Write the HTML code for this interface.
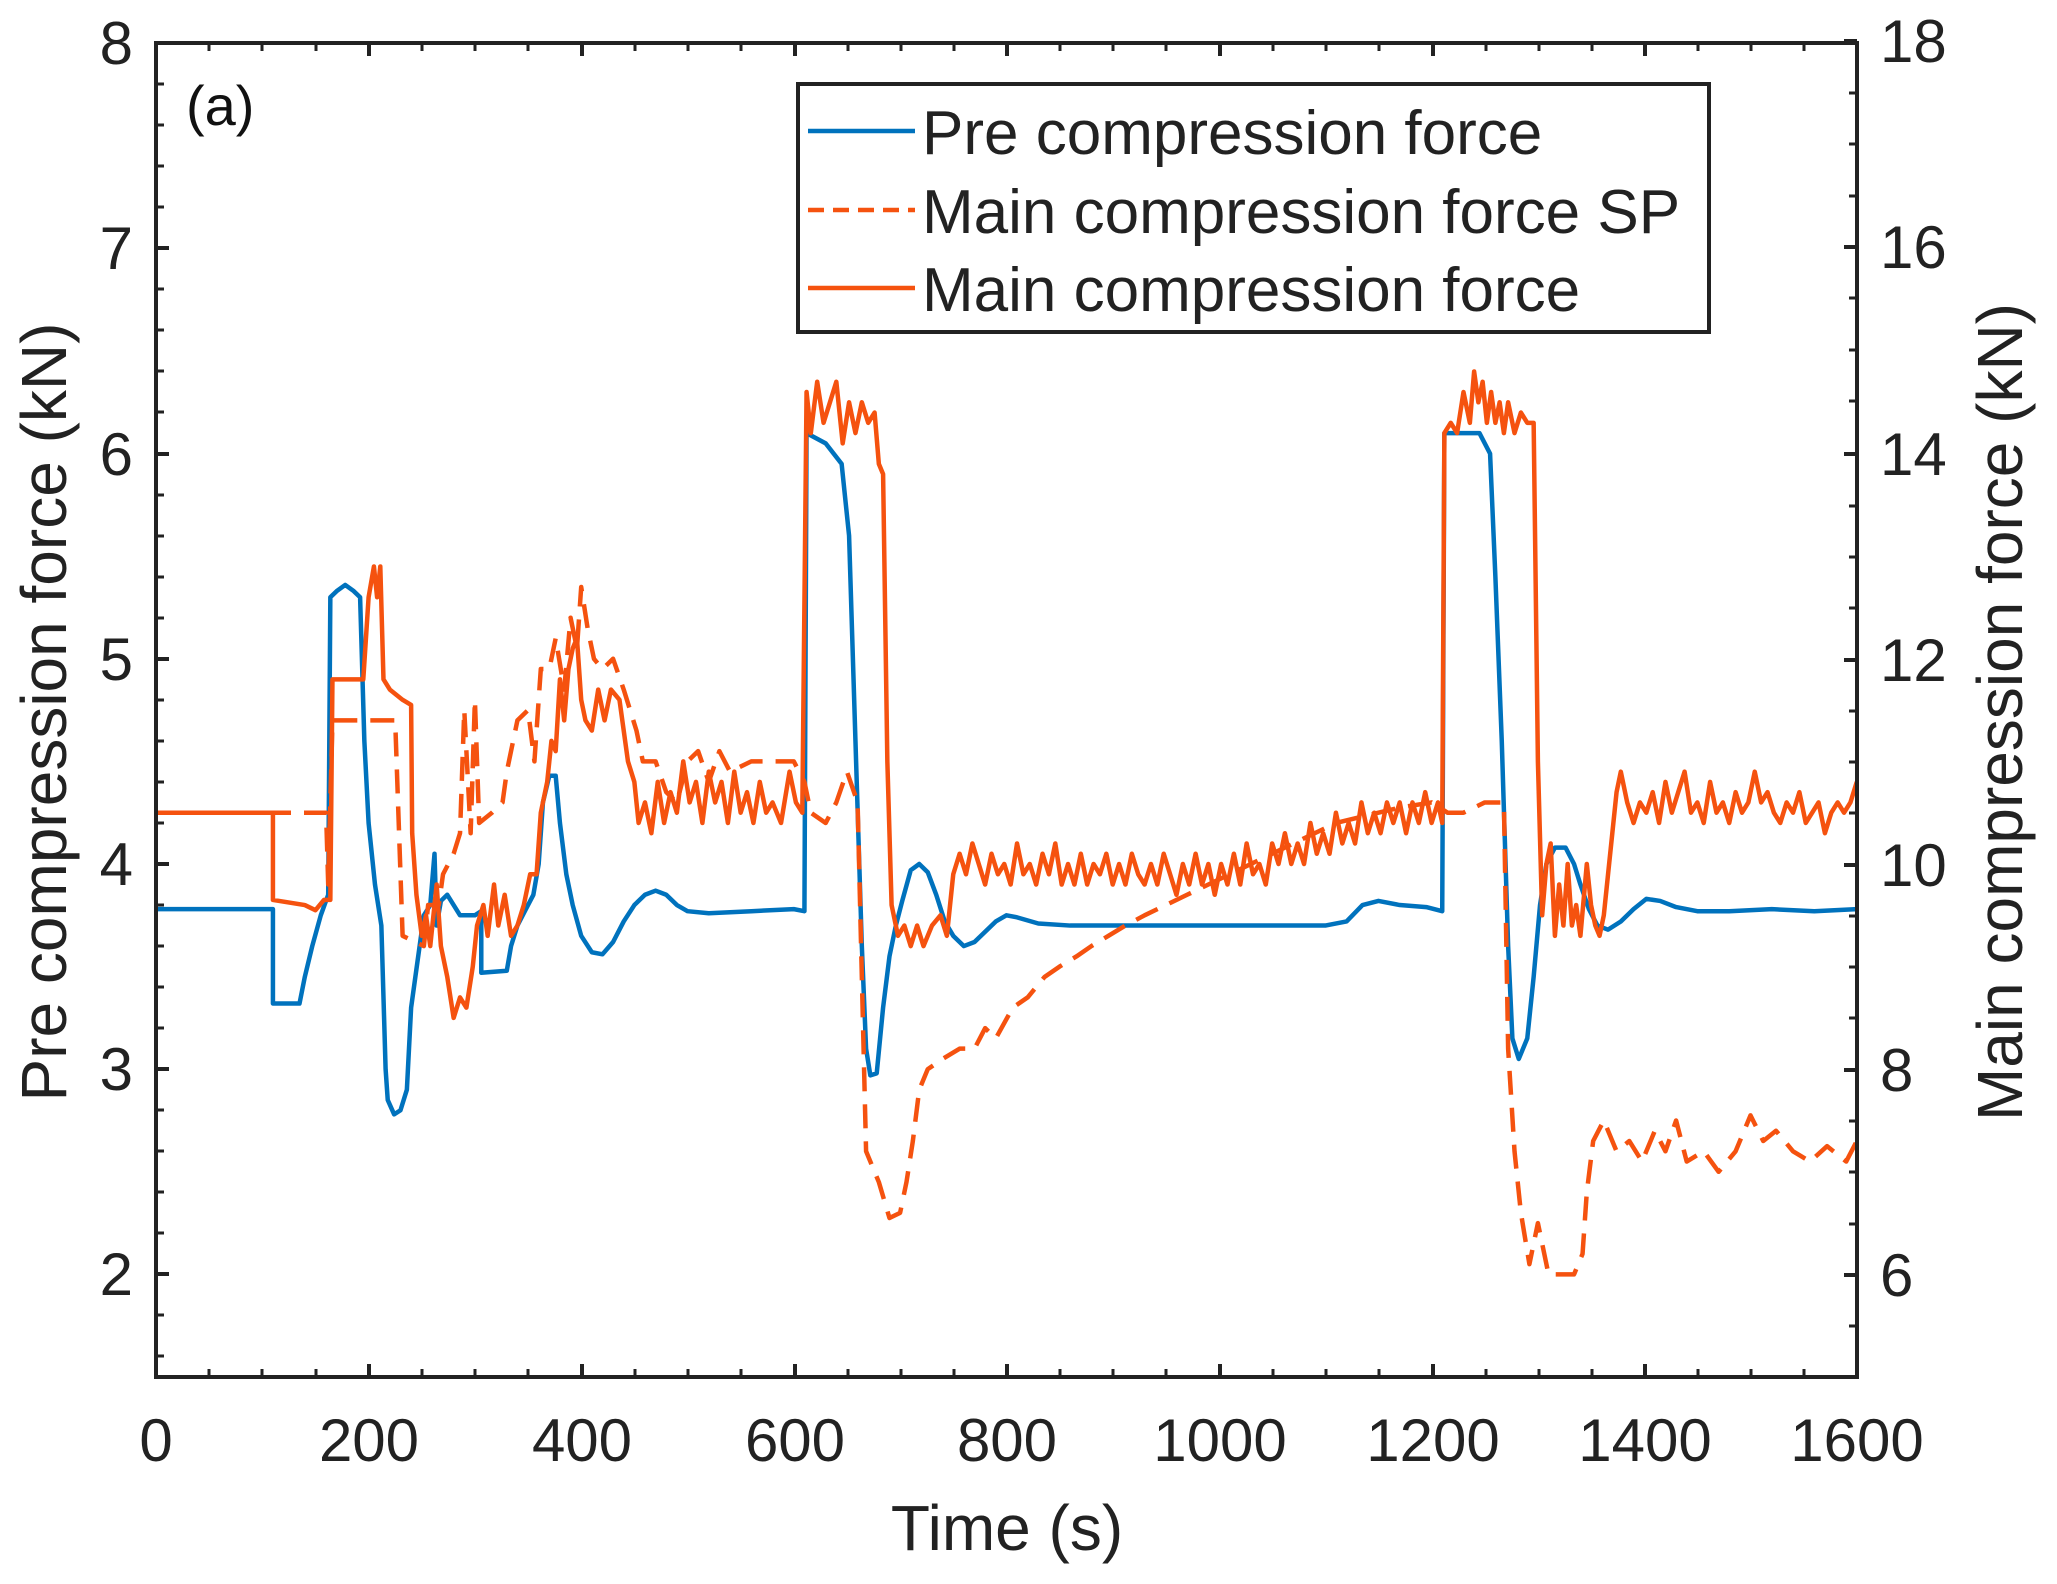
<!DOCTYPE html>
<html><head><meta charset="utf-8"><style>
html,body{margin:0;padding:0;background:#fff}
svg{display:block}
text{font-family:"Liberation Sans",sans-serif;fill:#222}
</style></head><body>
<svg width="2057" height="1584" viewBox="0 0 2057 1584" xmlns="http://www.w3.org/2000/svg">
<rect width="2057" height="1584" fill="#fff"/>
<defs><clipPath id="c"><rect x="156" y="43" width="1701" height="1334"/></clipPath></defs>
<g clip-path="url(#c)" fill="none" stroke-linejoin="round">
<g transform="translate(156,1377) scale(1.063,-205.2) translate(0,-1.5)">
<polyline vector-effect="non-scaling-stroke" stroke="#0072BD" stroke-width="4.5" points="0,3.78 110,3.78 110,3.32 135,3.32 140,3.45 147,3.6 155,3.75 162,3.85 164,5.3 170,5.33 178,5.36 186,5.33 192,5.3 196,4.6 200,4.2 206,3.9 212,3.7 216,3.0 218,2.85 224,2.78 230,2.8 236,2.9 240,3.3 244,3.45 248,3.6 252,3.75 258,3.8 262,4.05 264,3.7 268,3.82 274,3.85 280,3.8 286,3.75 292,3.75 300,3.75 306,3.77 306,3.47 330,3.48 334,3.6 340,3.7 348,3.78 355,3.85 360,4.0 364,4.3 370,4.43 376,4.43 380,4.2 386,3.95 392,3.8 400,3.65 410,3.57 420,3.56 430,3.62 440,3.72 450,3.8 460,3.85 470,3.87 480,3.85 490,3.8 500,3.77 520,3.76 560,3.77 600,3.78 610,3.77 612,6.1 630,6.05 645,5.95 652,5.6 658,4.6 664,3.6 668,3.1 672,2.97 678,2.98 684,3.3 690,3.55 696,3.7 702,3.82 710,3.97 718,4.0 726,3.96 734,3.85 742,3.72 750,3.65 760,3.6 770,3.62 780,3.67 790,3.72 800,3.75 810,3.74 830,3.71 860,3.7 900,3.7 1000,3.7 1100,3.7 1120,3.72 1135,3.8 1150,3.82 1170,3.8 1195,3.79 1210,3.77 1212,6.1 1245,6.1 1255,6.0 1260,5.4 1266,4.6 1272,3.6 1276,3.15 1282,3.05 1290,3.15 1296,3.45 1302,3.8 1308,4.0 1316,4.08 1326,4.08 1334,4.0 1340,3.9 1348,3.78 1356,3.7 1366,3.68 1378,3.72 1390,3.78 1402,3.83 1415,3.82 1430,3.79 1450,3.77 1480,3.77 1520,3.78 1560,3.77 1600,3.78"/>
</g>
<g transform="translate(156,1377) scale(1.063,-102.6) translate(0,-5)">
<polyline vector-effect="non-scaling-stroke" stroke="#F5520F" stroke-width="4.5" stroke-dasharray="24,13" points="0,10.5 160,10.5 162,9.8 166,11.4 200,11.4 205,11.4 225,11.4 232,9.3 252,9.2 256,9.6 266,9.6 270,9.9 280,10.1 286,10.3 290,11.5 296,10.3 300,11.6 304,10.4 316,10.5 326,10.6 330,10.9 340,11.4 350,11.5 356,11.0 362,11.9 370,11.9 376,12.2 384,11.7 390,12.4 396,12.1 400,12.7 406,12.3 412,12.0 420,11.9 430,12.0 440,11.7 452,11.3 458,11.0 470,11.0 480,10.7 490,10.6 500,11.0 510,11.1 520,10.8 530,11.1 540,10.9 560,11.0 580,11.0 600,11.0 610,10.8 616,10.5 630,10.4 640,10.6 650,10.9 660,10.6 668,7.2 680,6.9 690,6.55 700,6.6 706,6.9 712,7.3 718,7.8 726,8.0 740,8.1 756,8.2 770,8.2 780,8.4 790,8.3 806,8.6 820,8.7 836,8.9 850,9.0 866,9.1 880,9.2 896,9.3 912,9.4 930,9.5 950,9.6 970,9.7 990,9.8 1010,9.9 1030,10.0 1050,10.1 1070,10.2 1090,10.3 1110,10.4 1130,10.45 1150,10.5 1170,10.55 1200,10.6 1215,10.5 1230,10.5 1250,10.6 1268,10.6 1272,8.2 1278,7.2 1284,6.6 1292,6.1 1300,6.5 1310,6.0 1322,6.0 1334,6.0 1342,6.2 1346,6.8 1352,7.3 1362,7.5 1374,7.2 1386,7.3 1398,7.1 1410,7.4 1420,7.2 1430,7.5 1440,7.1 1456,7.2 1470,7.0 1486,7.2 1500,7.55 1512,7.3 1524,7.4 1540,7.2 1556,7.1 1572,7.25 1590,7.1 1600,7.3"/>
<polyline vector-effect="non-scaling-stroke" stroke="#F5520F" stroke-width="4.5" points="0,10.5 110,10.5 110,9.65 140,9.6 150,9.55 158,9.65 164,9.65 166,11.8 195,11.8 200,12.6 205,12.9 208,12.6 211,12.9 214,11.8 220,11.7 232,11.6 240,11.55 241,10.3 245,9.7 250,9.3 254,9.5 258,9.2 264,9.8 268,9.2 274,8.9 280,8.5 286,8.7 292,8.6 298,9.0 302,9.4 308,9.6 312,9.3 318,9.8 322,9.4 328,9.7 334,9.3 340,9.4 346,9.6 352,9.9 358,9.9 362,10.5 368,10.8 372,11.2 376,11.1 380,11.8 384,11.4 388,11.9 392,12.1 396,12.2 400,11.6 404,11.4 410,11.3 416,11.7 422,11.4 428,11.7 436,11.6 444,11.0 450,10.8 454,10.4 460,10.6 466,10.3 472,10.8 478,10.4 484,10.7 490,10.5 496,11.0 502,10.6 508,10.8 514,10.4 520,10.9 526,10.6 532,10.8 538,10.4 544,10.9 550,10.5 556,10.7 562,10.4 568,10.8 574,10.5 580,10.6 588,10.4 596,10.9 602,10.6 608,10.5 612,14.6 616,14.2 622,14.7 628,14.3 634,14.5 640,14.7 646,14.1 652,14.5 658,14.2 664,14.5 670,14.3 676,14.4 680,13.9 684,13.8 688,11.0 692,9.6 698,9.3 704,9.4 710,9.2 716,9.4 722,9.2 730,9.4 738,9.5 744,9.3 750,9.9 756,10.1 762,9.9 768,10.2 774,10.0 780,9.8 786,10.1 792,9.9 798,10.0 804,9.8 810,10.2 816,9.9 822,10.0 828,9.8 834,10.1 840,9.9 846,10.2 852,9.8 858,10.0 864,9.8 870,10.1 876,9.8 882,10.0 888,9.9 894,10.1 900,9.8 906,10.0 912,9.8 918,10.1 924,9.9 930,9.8 936,10.0 942,9.8 948,10.1 954,9.9 960,9.7 966,10.0 972,9.8 978,10.1 984,9.8 990,10.0 996,9.7 1002,10.0 1008,9.8 1014,10.1 1020,9.8 1026,10.2 1032,9.9 1038,10.0 1044,9.8 1050,10.2 1056,10.0 1062,10.3 1068,10.0 1074,10.2 1080,10.0 1086,10.4 1092,10.1 1098,10.3 1104,10.1 1110,10.5 1116,10.2 1122,10.4 1128,10.2 1134,10.6 1140,10.3 1146,10.5 1152,10.3 1158,10.6 1164,10.4 1170,10.6 1176,10.3 1182,10.6 1188,10.4 1194,10.7 1200,10.4 1206,10.6 1210,10.4 1212,14.2 1218,14.3 1224,14.2 1230,14.6 1236,14.3 1240,14.8 1244,14.5 1248,14.7 1252,14.3 1256,14.6 1260,14.3 1264,14.5 1268,14.2 1272,14.5 1278,14.2 1284,14.4 1290,14.3 1296,14.3 1300,11.0 1304,9.5 1308,10.0 1312,10.2 1316,9.3 1320,9.8 1324,9.4 1328,10.0 1332,9.4 1336,9.6 1340,9.3 1346,10.0 1350,9.6 1354,9.4 1358,9.3 1362,9.5 1366,9.9 1370,10.3 1374,10.7 1378,10.9 1384,10.6 1390,10.4 1396,10.6 1402,10.5 1408,10.7 1414,10.4 1420,10.8 1426,10.5 1432,10.7 1438,10.9 1444,10.5 1450,10.6 1456,10.4 1462,10.8 1468,10.5 1474,10.6 1480,10.4 1486,10.7 1492,10.5 1498,10.6 1504,10.9 1510,10.6 1516,10.7 1522,10.5 1528,10.4 1534,10.6 1540,10.5 1546,10.7 1552,10.4 1558,10.5 1564,10.6 1570,10.3 1576,10.5 1582,10.6 1588,10.5 1594,10.6 1600,10.8"/>
</g>
</g>
<rect x="156" y="43" width="1701" height="1334" fill="none" stroke="#222" stroke-width="4"/>
<g stroke="#222" stroke-width="4">
<path d="M156,1377v-13M369,1377v-13M582,1377v-13M795,1377v-13M1007,1377v-13M1220,1377v-13M1433,1377v-13M1645,1377v-13M1857,1377v-13
M156,43v13M369,43v13M582,43v13M795,43v13M1007,43v13M1220,43v13M1433,43v13M1645,43v13"/>
<path stroke-width="3" d="M209,1377v-8M262,1377v-8M316,1377v-8M422,1377v-8M475,1377v-8M528,1377v-8M635,1377v-8M688,1377v-8M741,1377v-8M848,1377v-8M901,1377v-8M954,1377v-8M1060,1377v-8M1113,1377v-8M1166,1377v-8M1273,1377v-8M1326,1377v-8M1379,1377v-8M1486,1377v-8M1539,1377v-8M1592,1377v-8M1698,1377v-8M1751,1377v-8M1804,1377v-8
M209,43v8M262,43v8M316,43v8M422,43v8M475,43v8M528,43v8M635,43v8M688,43v8M741,43v8M848,43v8M901,43v8M954,43v8M1060,43v8M1113,43v8M1166,43v8M1273,43v8M1326,43v8M1379,43v8M1486,43v8M1539,43v8M1592,43v8M1698,43v8M1751,43v8M1804,43v8"/>
<path d="M156,43h13M156,248h13M156,454h13M156,659h13M156,864h13M156,1069h13M156,1274h13"/>
<path stroke-width="3" d="M156,84h8M156,125h8M156,166h8M156,207h8M156,289h8M156,330h8M156,371h8M156,412h8M156,495h8M156,536h8M156,577h8M156,618h8M156,700h8M156,741h8M156,782h8M156,823h8M156,905h8M156,946h8M156,987h8M156,1028h8M156,1110h8M156,1151h8M156,1192h8M156,1233h8M156,1315h8M156,1356h8"/>
<path d="M1857,41h-13M1857,247h-13M1857,454h-13M1857,660h-13M1857,865h-13M1857,1070h-13M1857,1275h-13"/>
<path stroke-width="3" d="M1857,93h-8M1857,144h-8M1857,196h-8M1857,298h-8M1857,350h-8M1857,401h-8M1857,506h-8M1857,557h-8M1857,608h-8M1857,711h-8M1857,762h-8M1857,813h-8M1857,916h-8M1857,967h-8M1857,1018h-8M1857,1121h-8M1857,1172h-8M1857,1224h-8M1857,1326h-8"/>
</g>
<g font-size="60" text-anchor="end">
<text x="133" y="64">8</text><text x="133" y="269">7</text><text x="133" y="475">6</text><text x="133" y="680">5</text><text x="133" y="885">4</text><text x="133" y="1090">3</text><text x="133" y="1295">2</text>
</g>
<g font-size="60" text-anchor="start">
<text x="1880" y="62">18</text><text x="1880" y="268">16</text><text x="1880" y="475">14</text><text x="1880" y="681">12</text><text x="1880" y="886">10</text><text x="1880" y="1091">8</text><text x="1880" y="1296">6</text>
</g>
<g font-size="60" text-anchor="middle">
<text x="156" y="1461">0</text><text x="369" y="1461">200</text><text x="582" y="1461">400</text><text x="795" y="1461">600</text><text x="1007" y="1461">800</text><text x="1220" y="1461">1000</text><text x="1433" y="1461">1200</text><text x="1645" y="1461">1400</text><text x="1857" y="1461">1600</text>
</g>
<text x="1007" y="1550" font-size="64" text-anchor="middle">Time (s)</text>
<text transform="translate(66,712) rotate(-90)" font-size="64" text-anchor="middle">Pre compression force (kN)</text>
<text transform="translate(2022,712) rotate(-90)" font-size="64" text-anchor="middle">Main compression force (kN)</text>
<text x="186" y="125" font-size="56" style="fill:#111">(a)</text>
<rect x="798" y="84" width="911" height="248" fill="#fff" stroke="#222" stroke-width="4"/>
<line x1="808" y1="131" x2="915" y2="131" stroke="#0072BD" stroke-width="4.5"/>
<line x1="808" y1="210" x2="915" y2="210" stroke="#F5520F" stroke-width="4.5" stroke-dasharray="16,9"/>
<line x1="808" y1="288" x2="915" y2="288" stroke="#F5520F" stroke-width="4.5"/>
<g font-size="62" style="fill:#111">
<text x="922" y="154">Pre compression force</text>
<text x="922" y="233">Main compression force SP</text>
<text x="922" y="311">Main compression force</text>
</g>
</svg>
</body></html>
